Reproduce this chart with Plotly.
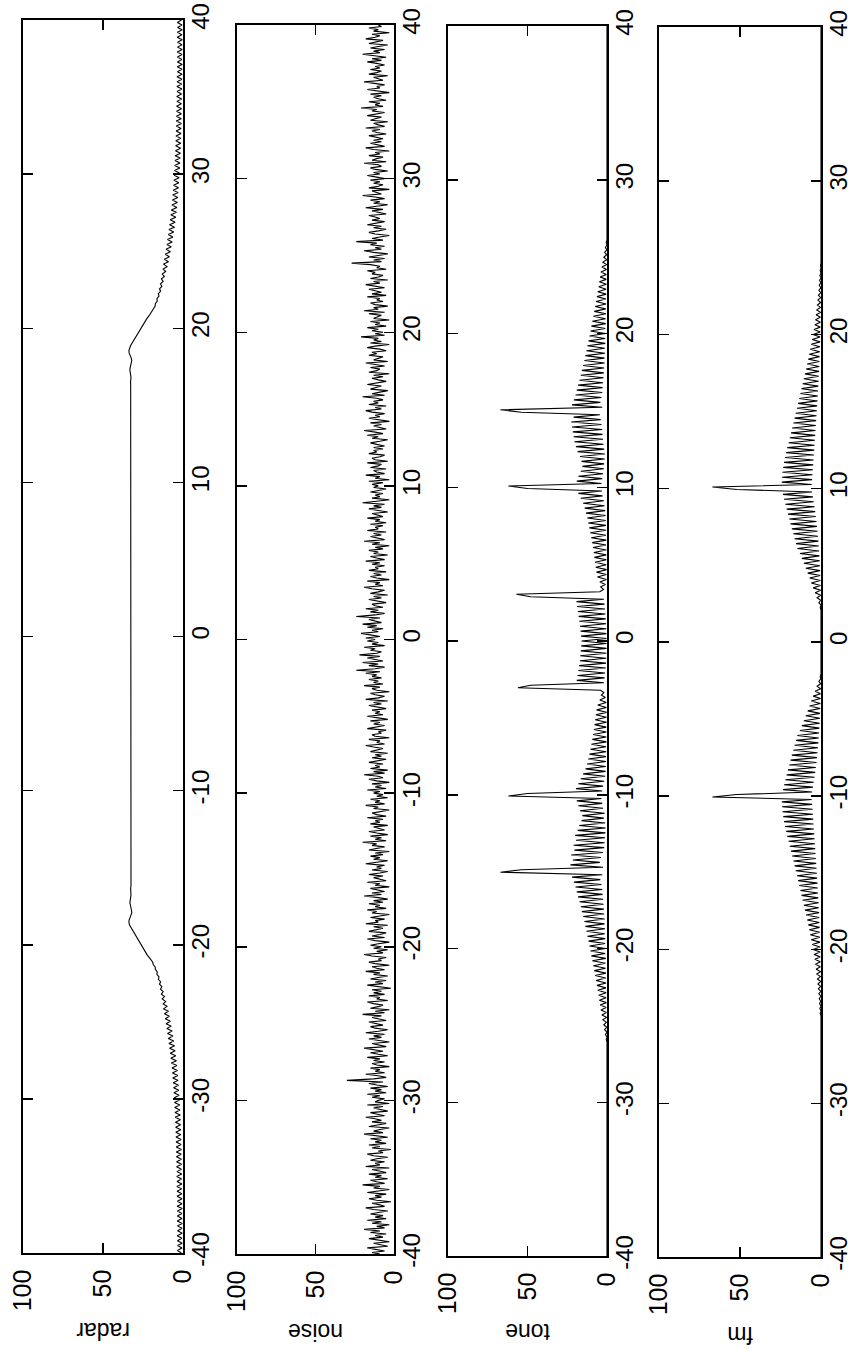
import numpy as np
import plotly.graph_objects as go

NAMES = ["radar", "noise", "tone", "fm"]
AMP_TICKS = [0, 50, 100]
AMP_LABELS = ["0", "50", "100"]
POS_TICKS = [-40, -30, -20, -10, 0, 10, 20, 30, 40]
POS_LABELS = ["-40", "-30", "-20", "-10", "0", "10", "20", "30", "40"]

# each row = 25 samples, step 0.16, starting at -40, -36, ..., 36; last single value at 40
RADAR = [
    1.0, 3.5, 0.6, 3.4, 0.5, 3.5, 0.7, 3.6, 0.5, 3.4, 0.6, 3.5, 0.5, 3.6, 0.6, 3.5, 0.7, 3.5, 0.5, 3.6, 0.6, 3.5, 0.6, 3.7, 0.7,
    3.7, 0.8, 3.8, 0.7, 3.7, 0.9, 3.9, 0.8, 3.8, 1.0, 4.0, 0.9, 4.0, 1.0, 4.1, 1.1, 4.2, 1.0, 4.2, 1.2, 4.3, 1.2, 4.4, 1.3, 4.5,
    1.4, 4.6, 1.5, 4.7, 1.6, 4.9, 1.7, 5.0, 1.9, 5.2, 2.0, 5.3, 2.2, 5.5, 2.4, 5.7, 2.6, 5.9, 2.8, 6.1, 3.0, 6.4, 3.2, 6.6, 3.5,
    6.9, 3.8, 7.3, 4.1, 7.6, 4.5, 8.0, 4.9, 8.4, 5.3, 8.8, 5.8, 9.2, 6.3, 9.7, 6.8, 10.1, 7.3, 10.6, 7.9, 11.1, 8.5, 11.6, 9.1, 12.1,
    10.0, 12.4, 10.8, 13.0, 11.6, 13.5, 12.4, 14.1, 13.2, 14.7, 14.0, 15.4, 15.0, 16.3, 16.1, 17.3, 17.4, 18.6, 19.0, 20.4, 21.3, 22.5, 23.4, 24.5, 25.2,
    26.0, 26.9, 27.9, 28.9, 29.9, 30.9, 31.8, 32.7, 33.4, 33.8, 33.7, 33.1, 32.4, 32.0, 32.2, 32.6, 33.0, 33.2, 33.0, 32.7, 32.5, 32.6, 32.8, 32.7, 32.5,
    32.5, 32.4, 32.6, 32.5, 32.3, 32.4, 32.6, 32.7, 32.5, 32.4, 32.3, 32.5, 32.6, 32.5, 32.4, 32.4, 32.6, 32.5, 32.3, 32.4, 32.5, 32.6, 32.4, 32.3, 32.5,
    32.6, 32.5, 32.4, 32.5, 32.6, 32.4, 32.3, 32.4, 32.5, 32.6, 32.5, 32.4, 32.5, 32.3, 32.4, 32.6, 32.5, 32.4, 32.5, 32.6, 32.4, 32.5, 32.3, 32.4, 32.5,
    32.4, 32.6, 32.5, 32.3, 32.4, 32.5, 32.6, 32.4, 32.5, 32.3, 32.4, 32.6, 32.5, 32.4, 32.5, 32.3, 32.4, 32.5, 32.6, 32.4, 32.5, 32.3, 32.5, 32.6, 32.4,
    32.5, 32.3, 32.4, 32.6, 32.5, 32.4, 32.5, 32.3, 32.4, 32.6, 32.5, 32.4, 32.3, 32.5, 32.6, 32.4, 32.5, 32.4, 32.3, 32.5, 32.6, 32.4, 32.5, 32.3, 32.4,
    32.5, 32.6, 32.4, 32.5, 32.3, 32.4, 32.6, 32.5, 32.4, 32.5, 32.3, 32.4, 32.6, 32.5, 32.4, 32.3, 32.5, 32.6, 32.4, 32.5, 32.3, 32.4, 32.5, 32.6, 32.4,
    32.5, 32.4, 32.3, 32.5, 32.6, 32.4, 32.5, 32.3, 32.4, 32.6, 32.5, 32.4, 32.5, 32.3, 32.4, 32.6, 32.5, 32.4, 32.3, 32.5, 32.6, 32.4, 32.5, 32.4, 32.3,
    32.4, 32.5, 32.6, 32.4, 32.3, 32.5, 32.4, 32.6, 32.5, 32.3, 32.4, 32.5, 32.6, 32.4, 32.5, 32.3, 32.4, 32.6, 32.5, 32.4, 32.3, 32.5, 32.6, 32.4, 32.5,
    32.6, 32.4, 32.5, 32.3, 32.4, 32.6, 32.5, 32.4, 32.3, 32.5, 32.6, 32.4, 32.5, 32.3, 32.4, 32.5, 32.6, 32.4, 32.5, 32.3, 32.4, 32.6, 32.5, 32.4, 32.5,
    32.5, 32.5, 32.7, 32.8, 32.6, 32.5, 32.7, 33.0, 33.2, 33.0, 32.6, 32.2, 32.0, 32.4, 33.1, 33.7, 33.8, 33.4, 32.7, 31.8, 30.9, 29.9, 28.9, 27.9, 26.9,
    26.0, 25.2, 24.5, 23.4, 22.5, 21.3, 20.4, 19.0, 18.6, 17.4, 17.3, 16.1, 16.3, 15.0, 15.4, 14.0, 14.7, 13.2, 14.1, 12.4, 13.5, 11.6, 13.0, 10.8, 12.4,
    10.0, 12.1, 9.1, 11.6, 8.5, 11.1, 7.9, 10.6, 7.3, 10.1, 6.8, 9.7, 6.3, 9.2, 5.8, 8.8, 5.3, 8.4, 4.9, 8.0, 4.5, 7.6, 4.1, 7.3, 3.8,
    6.9, 3.5, 6.6, 3.2, 6.4, 3.0, 6.1, 2.8, 5.9, 2.6, 5.7, 2.4, 5.5, 2.2, 5.3, 2.0, 5.2, 1.9, 5.0, 1.7, 4.9, 1.6, 4.7, 1.5, 4.6,
    1.4, 4.5, 1.3, 4.4, 1.2, 4.3, 1.2, 4.2, 1.0, 4.2, 1.1, 4.1, 1.0, 4.0, 0.9, 4.0, 1.0, 3.8, 0.8, 3.9, 0.9, 3.7, 0.7, 3.8, 0.8,
    3.7, 0.7, 3.7, 0.6, 3.5, 0.6, 3.6, 0.5, 3.5, 0.7, 3.5, 0.6, 3.6, 0.5, 3.5, 0.6, 3.4, 0.5, 3.6, 0.7, 3.5, 0.5, 3.4, 0.6, 3.5,
    1.0,
]

# each row = 25 samples, step 0.1, starting at -40, -37.5, ..., 37.5; last single value at 40
NOISE = [
    9, 14, 6, 11, 17, 4, 8, 13, 3, 10, 16, 7, 12, 5, 15, 9, 19, 6, 11, 3, 14, 8, 17, 5, 12,
    7, 15, 10, 4, 13, 18, 6, 9, 14, 2, 11, 16, 8, 12, 5, 17, 10, 3, 13, 9, 20, 6, 11, 15, 4,
    12, 8, 16, 5, 10, 14, 3, 18, 9, 12, 6, 15, 11, 4, 13, 17, 7, 10, 2, 14, 9, 16, 5, 12, 8,
    15, 4, 11, 19, 7, 13, 9, 3, 16, 10, 5, 14, 8, 12, 18, 6, 11, 15, 4, 9, 13, 7, 17, 3, 12,
    10, 6, 14, 9, 17, 5, 12, 8, 15, 4, 11, 16, 7, 30, 13, 5, 10, 18, 6, 12, 9, 15, 3, 11, 14,
    6, 13, 9, 17, 4, 10, 15, 7, 12, 19, 5, 9, 14, 3, 11, 16, 8, 13, 6, 18, 10, 4, 12, 15, 7,
    11, 16, 5, 9, 14, 8, 20, 6, 12, 3, 15, 10, 7, 13, 17, 4, 11, 9, 16, 6, 13, 8, 14, 2, 10,
    17, 7, 12, 5, 15, 10, 4, 13, 9, 18, 6, 11, 14, 3, 12, 16, 8, 10, 5, 14, 19, 7, 11, 4, 13,
    8, 15, 10, 3, 12, 17, 6, 14, 9, 5, 16, 11, 7, 13, 4, 18, 10, 12, 6, 15, 8, 3, 14, 11, 17,
    5, 12, 9, 16, 7, 13, 4, 10, 19, 8, 14, 6, 11, 15, 3, 12, 9, 17, 5, 10, 13, 7, 16, 9, 4,
    14, 8, 11, 6, 18, 10, 4, 13, 9, 15, 7, 12, 3, 16, 10, 6, 14, 11, 20, 5, 12, 8, 15, 4, 11,
    16, 6, 10, 13, 4, 15, 9, 12, 7, 17, 5, 11, 14, 8, 3, 13, 10, 18, 6, 12, 9, 15, 4, 11, 7,
    13, 9, 17, 5, 12, 8, 14, 3, 11, 16, 7, 10, 19, 6, 13, 4, 15, 9, 12, 7, 16, 10, 5, 14, 8,
    12, 4, 15, 10, 7, 13, 18, 6, 11, 9, 16, 3, 12, 14, 8, 10, 5, 17, 11, 6, 13, 9, 15, 4, 10,
    17, 7, 12, 9, 14, 5, 11, 16, 8, 13, 4, 18, 10, 6, 12, 15, 3, 11, 14, 9, 19, 7, 13, 10, 16,
    8, 14, 11, 18, 9, 24, 12, 6, 16, 10, 20, 7, 13, 17, 9, 22, 11, 8, 15, 12, 19, 6, 14, 10, 17,
    12, 18, 9, 15, 21, 10, 14, 7, 17, 11, 20, 8, 13, 16, 9, 24, 12, 6, 15, 10, 18, 7, 12, 14, 5,
    11, 16, 8, 13, 4, 15, 10, 6, 14, 19, 7, 12, 9, 17, 3, 11, 15, 8, 13, 5, 16, 10, 12, 6, 14,
    9, 18, 6, 11, 15, 4, 13, 10, 16, 7, 12, 3, 14, 9, 19, 6, 11, 15, 8, 13, 5, 17, 10, 12, 7,
    15, 5, 12, 9, 17, 7, 11, 14, 4, 10, 16, 8, 13, 6, 20, 11, 3, 14, 9, 12, 7, 15, 10, 5, 13,
    10, 14, 7, 16, 3, 12, 9, 18, 6, 11, 13, 5, 15, 10, 8, 17, 4, 12, 14, 9, 6, 16, 11, 13, 7,
    13, 6, 11, 15, 9, 4, 14, 10, 17, 7, 12, 19, 5, 10, 13, 8, 15, 3, 11, 16, 9, 12, 6, 14, 18,
    8, 12, 5, 16, 10, 13, 7, 11, 20, 6, 14, 9, 4, 15, 11, 8, 17, 12, 5, 10, 14, 7, 13, 3, 16,
    11, 9, 15, 6, 12, 18, 4, 13, 10, 7, 16, 11, 14, 5, 9, 17, 12, 3, 15, 8, 13, 10, 21, 6, 12,
    7, 14, 10, 17, 5, 12, 9, 15, 3, 13, 11, 8, 16, 6, 19, 10, 13, 4, 12, 15, 7, 11, 9, 17, 5,
    14, 8, 12, 16, 6, 11, 18, 9, 13, 4, 15, 10, 7, 14, 12, 17, 5, 11, 9, 15, 27, 8, 13, 6, 16,
    10, 4, 13, 19, 8, 12, 6, 15, 11, 24, 7, 14, 9, 3, 12, 16, 10, 5, 13, 8, 17, 11, 6, 14, 9,
    12, 16, 5, 10, 14, 7, 18, 11, 4, 13, 9, 15, 6, 12, 20, 8, 11, 14, 3, 16, 10, 7, 13, 9, 15,
    6, 11, 17, 9, 13, 4, 12, 15, 8, 10, 19, 5, 14, 11, 7, 16, 9, 12, 3, 13, 18, 6, 10, 15, 8,
    13, 7, 12, 16, 5, 11, 14, 9, 18, 6, 10, 13, 4, 15, 12, 8, 17, 10, 6, 14, 11, 21, 7, 12, 9,
    16, 5, 10, 13, 8, 15, 3, 12, 17, 9, 11, 6, 14, 19, 7, 10, 13, 4, 16, 11, 8, 15, 9, 12, 6,
    11, 17, 8, 14, 5, 12, 20, 9, 13, 6, 15, 10, 4, 16, 11, 7, 18, 12, 9, 14, 3, 13, 10, 16, 8,
    10,
]

TONE = [
    0, 0, 0, 0, 0, 0, 0, 0, 0, 0, 0, 0, 0, 0, 0, 0, 0, 0, 0, 0, 0, 0, 0, 0, 0,
    0, 0, 0, 0, 0, 0, 0, 0, 0, 0, 0, 0, 0, 0, 0, 0, 0, 0, 0, 0, 0, 0, 0, 0, 0,
    0, 0, 0, 0, 0, 0, 0, 0, 0, 0, 0, 0, 0, 0, 0, 0, 0, 0, 0, 0, 0, 0, 0, 0, 0,
    0, 0, 0, 0, 0, 0, 0, 0, 0, 0, 0, 0, 0, 0.5, 0, 1.0, 0, 1.5, 0.2, 2.0, 0.3, 2.6, 0.3, 3.2, 0.4,
    3.8, 0.5, 4.3, 0.4, 4.8, 0.6, 5.2, 0.5, 5.8, 0.7, 6.3, 0.6, 6.9, 0.8, 7.4, 0.7, 8.0, 0.9, 8.6, 1.0, 9.2, 0.8, 9.8, 1.1, 10.4,
    1.0, 11.0, 1.2, 11.6, 1.1, 12.3, 1.4, 12.9, 1.3, 13.6, 1.6, 14.2, 1.5, 15.0, 1.8, 15.8, 2.0, 16.5, 2.2, 17.3, 2.5, 18.2, 2.8, 19.0, 3.0,
    19.8, 3.5, 20.8, 4.2, 22.0, 3.0, 67.0, 54.0, 2.5, 23.0, 4.5, 21.5, 3.8, 22.5, 2.6, 20.5, 1.8, 21.0, 1.5, 19.5, 1.2, 20.0, 1.0, 18.5, 0.9,
    17.5, 1.2, 16.0, 2.0, 15.5, 1.5, 17.0, 2.5, 18.0, 3.0, 19.0, 3.5, 62.0, 50.0, 3.0, 19.5, 2.5, 18.0, 1.8, 16.5, 1.2, 15.0, 0.9, 13.5, 0.8,
    12.5, 0.6, 11.8, 0.7, 11.0, 0.5, 10.4, 0.6, 9.8, 0.4, 9.2, 0.5, 8.7, 0.4, 8.2, 0.5, 7.8, 0.3, 7.4, 0.4, 7.0, 0.3, 6.5, 0.4, 5.8,
    0.5, 4.5, 1.0, 3.5, 2.0, 4.0, 56.0, 48.0, 2.0, 19.0, 1.5, 18.5, 1.2, 18.0, 0.8, 17.5, 0.6, 17.0, 0.5, 16.8, 0.4, 16.5, 0.3, 16.2, 0.3,
    16.0, 0.3, 16.3, 0.4, 16.6, 0.5, 17.0, 0.6, 17.4, 0.8, 17.8, 1.0, 18.3, 1.3, 18.8, 1.6, 19.2, 2.0, 48.0, 57.0, 4.5, 2.2, 4.0, 1.0, 4.5,
    0.4, 6.0, 0.4, 6.6, 0.3, 7.1, 0.5, 7.5, 0.4, 7.9, 0.5, 8.3, 0.4, 8.8, 0.6, 9.3, 0.5, 9.9, 0.7, 10.5, 0.6, 11.1, 0.7, 11.8, 0.8,
    12.4, 0.9, 13.2, 1.2, 14.0, 1.6, 15.0, 2.0, 16.5, 2.8, 18.0, 3.2, 50.0, 62.0, 3.5, 19.0, 3.0, 18.0, 2.5, 16.5, 2.0, 15.5, 1.8, 16.0, 1.5,
    17.0, 1.4, 18.5, 1.8, 19.5, 2.2, 20.5, 2.5, 21.0, 2.8, 21.5, 3.0, 22.0, 3.5, 22.5, 4.0, 21.0, 4.5, 54.0, 67.0, 3.0, 22.0, 4.2, 20.8, 3.5,
    19.8, 3.0, 19.0, 2.8, 18.2, 2.5, 17.3, 2.2, 16.5, 2.0, 15.8, 1.8, 15.0, 1.5, 14.2, 1.6, 13.6, 1.3, 12.9, 1.4, 12.3, 1.1, 11.6, 1.2, 11.0,
    1.0, 10.4, 1.1, 9.8, 0.8, 9.2, 0.9, 8.6, 0.7, 8.0, 0.8, 7.4, 0.6, 6.9, 0.7, 6.3, 0.5, 5.8, 0.6, 5.2, 0.4, 4.8, 0.5, 4.3, 0.4,
    3.8, 0.3, 3.2, 0.3, 2.6, 0.2, 2.0, 0.2, 1.5, 0.1, 1.0, 0.1, 0.5, 0, 0, 0, 0, 0, 0, 0, 0, 0, 0, 0, 0,
    0, 0, 0, 0, 0, 0, 0, 0, 0, 0, 0, 0, 0, 0, 0, 0, 0, 0, 0, 0, 0, 0, 0, 0, 0,
    0, 0, 0, 0, 0, 0, 0, 0, 0, 0, 0, 0, 0, 0, 0, 0, 0, 0, 0, 0, 0, 0, 0, 0, 0,
    0, 0, 0, 0, 0, 0, 0, 0, 0, 0, 0, 0, 0, 0, 0, 0, 0, 0, 0, 0, 0, 0, 0, 0, 0,
    0,
]

FM = [
    0, 0, 0, 0, 0, 0, 0, 0, 0, 0, 0, 0, 0, 0, 0, 0, 0, 0, 0, 0, 0, 0, 0, 0, 0,
    0, 0, 0, 0, 0, 0, 0, 0, 0, 0, 0, 0, 0, 0, 0, 0, 0, 0, 0, 0, 0, 0, 0, 0, 0,
    0, 0, 0, 0, 0, 0, 0, 0, 0, 0, 0, 0, 0, 0, 0, 0, 0, 0, 0, 0, 0, 0, 0, 0, 0,
    0, 0, 0, 0, 0, 0, 0, 0, 0, 0, 0, 0, 0, 0, 0, 0, 0, 0, 0, 0, 0, 0, 0.3, 0, 0.5,
    0, 0.7, 0, 0.9, 0.1, 1.1, 0.1, 1.3, 0.1, 1.6, 0.2, 1.9, 0.2, 2.2, 0.3, 2.6, 0.3, 3.0, 0.4, 3.4, 0.4, 3.8, 0.5, 4.3, 0.5,
    4.9, 0.6, 5.4, 0.6, 6.0, 0.7, 6.6, 0.8, 7.2, 0.9, 7.8, 1.0, 8.5, 1.1, 9.2, 1.2, 9.9, 1.4, 10.6, 1.5, 11.3, 1.7, 12.0, 1.9, 12.7,
    2.0, 13.4, 2.2, 14.1, 2.4, 14.8, 2.6, 15.6, 2.8, 16.3, 3.0, 17.0, 3.2, 17.8, 3.4, 18.5, 3.6, 19.3, 3.8, 20.0, 4.0, 20.8, 4.2, 21.5, 4.4,
    22.2, 4.6, 22.8, 4.8, 23.3, 5.0, 23.8, 5.2, 24.0, 5.5, 24.2, 5.8, 67.0, 52.0, 5.5, 23.5, 5.0, 22.8, 4.5, 22.0, 4.0, 21.2, 3.6, 20.4, 3.2,
    19.6, 2.8, 18.8, 2.5, 18.0, 2.2, 17.1, 1.9, 16.3, 1.6, 15.4, 1.4, 14.6, 1.2, 13.0, 1.0, 11.8, 0.8, 10.6, 0.7, 9.4, 0.6, 8.2, 0.5, 7.0,
    0.4, 6.0, 0.3, 4.8, 0.3, 3.6, 0.2, 2.4, 0.2, 1.3, 0.1, 0.5, 0, 0, 0, 0, 0, 0, 0, 0, 0, 0, 0, 0, 0,
    0, 0, 0, 0, 0, 0, 0, 0, 0, 0, 0, 0, 0, 0, 0.5, 0, 1.3, 0.1, 2.4, 0.2, 3.6, 0.2, 4.8, 0.3, 6.0,
    0.4, 7.0, 0.5, 8.2, 0.6, 9.4, 0.7, 10.6, 0.8, 11.8, 1.0, 13.0, 1.2, 14.6, 1.4, 15.4, 1.6, 16.3, 1.9, 17.1, 2.2, 18.0, 2.5, 18.8, 2.8,
    19.6, 3.2, 20.4, 3.6, 21.2, 4.0, 22.0, 4.5, 22.8, 5.0, 23.5, 5.5, 52.0, 67.0, 5.8, 24.2, 5.5, 24.0, 5.2, 23.8, 5.0, 23.3, 4.8, 22.8, 4.6,
    22.2, 4.4, 21.5, 4.2, 20.8, 4.0, 20.0, 3.8, 19.3, 3.6, 18.5, 3.4, 17.8, 3.2, 17.0, 3.0, 16.3, 2.8, 15.6, 2.6, 14.8, 2.4, 14.1, 2.2, 13.4,
    2.0, 12.7, 1.9, 12.0, 1.7, 11.3, 1.5, 10.6, 1.4, 9.9, 1.2, 9.2, 1.1, 8.5, 1.0, 7.8, 0.9, 7.2, 0.8, 6.6, 0.7, 6.0, 0.6, 5.4, 0.6,
    4.9, 0.5, 4.3, 0.5, 3.8, 0.4, 3.4, 0.4, 3.0, 0.3, 2.6, 0.3, 2.2, 0.2, 1.9, 0.2, 1.6, 0.1, 1.3, 0.1, 1.1, 0.1, 0.9, 0, 0.7,
    0, 0.5, 0, 0.3, 0, 0, 0, 0, 0, 0, 0, 0, 0, 0, 0, 0, 0, 0, 0, 0, 0, 0, 0, 0, 0,
    0, 0, 0, 0, 0, 0, 0, 0, 0, 0, 0, 0, 0, 0, 0, 0, 0, 0, 0, 0, 0, 0, 0, 0, 0,
    0, 0, 0, 0, 0, 0, 0, 0, 0, 0, 0, 0, 0, 0, 0, 0, 0, 0, 0, 0, 0, 0, 0, 0, 0,
    0, 0, 0, 0, 0, 0, 0, 0, 0, 0, 0, 0, 0, 0, 0, 0, 0, 0, 0, 0, 0, 0, 0, 0, 0,
    0,
]

SERIES = [RADAR, NOISE, TONE, FM]

# ---- layout geometry (pixels) ----
W, H = 848, 1350
PANEL_X = [(23, 183), (237, 394), (448, 607), (659, 821)]
PANEL_Y = [(20, 1253), (25, 1254), (26, 1256), (27, 1257)]
LABEL_Y = [1331, 1332, 1332, 1335]
FONT = "Liberation Sans, Arial, Helvetica, sans-serif"

fig = go.Figure()
layout = dict(
    template="none",
    width=W, height=H, margin=dict(l=0, r=0, t=0, b=0, pad=0, autoexpand=False),
    paper_bgcolor="white", plot_bgcolor="white", showlegend=False,
    font=dict(family=FONT, color="black", size=24),
)
annotations = []
for i, (name, vals) in enumerate(zip(NAMES, SERIES)):
    n = i + 1
    xa = "x" if n == 1 else f"x{n}"
    ya = "y" if n == 1 else f"y{n}"
    pos = np.linspace(-40, 40, len(vals))
    fig.add_trace(go.Scatter(x=vals, y=pos, mode="lines", xaxis=xa, yaxis=ya,
                             line=dict(color="black", width=1.1), hoverinfo="skip"))
    x0, x1 = PANEL_X[i]
    y0, y1 = PANEL_Y[i]
    xkey = "xaxis" if n == 1 else f"xaxis{n}"
    ykey = "yaxis" if n == 1 else f"yaxis{n}"
    layout[xkey] = dict(
        domain=[x0 / W, x1 / W], anchor=ya, range=[100, 0], automargin=False,
        tickvals=AMP_TICKS, ticktext=AMP_LABELS, tickangle=-90,
        ticks="inside", ticklen=10, tickwidth=1.5, tickcolor="black",
        showline=True, linecolor="black", linewidth=1.6, mirror="ticks",
        showgrid=False, zeroline=False, ticklabelstandoff=5,
        ticklabeloverflow="allow",
        tickfont=dict(family=FONT, size=25, color="black"),
    )
    layout[ykey] = dict(
        domain=[1 - y1 / H, 1 - y0 / H], anchor=xa, range=[-40, 40], side="right",
        automargin=False,
        tickvals=POS_TICKS, ticktext=POS_LABELS, tickangle=-90,
        ticks="inside", ticklen=10, tickwidth=1.5, tickcolor="black",
        showline=True, linecolor="black", linewidth=1.6, mirror="ticks",
        showgrid=False, zeroline=False, ticklabelstandoff=-4,
        ticklabeloverflow="allow",
        tickfont=dict(family=FONT, size=24, color="black"),
    )
    annotations.append(dict(
        text=name, xref="paper", yref="paper",
        x=(x0 + x1) / 2 / W, y=1 - LABEL_Y[i] / H,
        xanchor="center", yanchor="middle", showarrow=False, textangle=180,
        font=dict(family=FONT, size=23, color="black"),
    ))
layout["annotations"] = annotations
fig.update_layout(**layout)
fig.write_html(
    "out.html",
    config={"displayModeBar": False, "staticPlot": True},
    post_script=(
        "document.body.style.margin='0px';"
        "document.body.style.padding='0px';"
        "document.documentElement.style.overflow='hidden';"
    ),
)
